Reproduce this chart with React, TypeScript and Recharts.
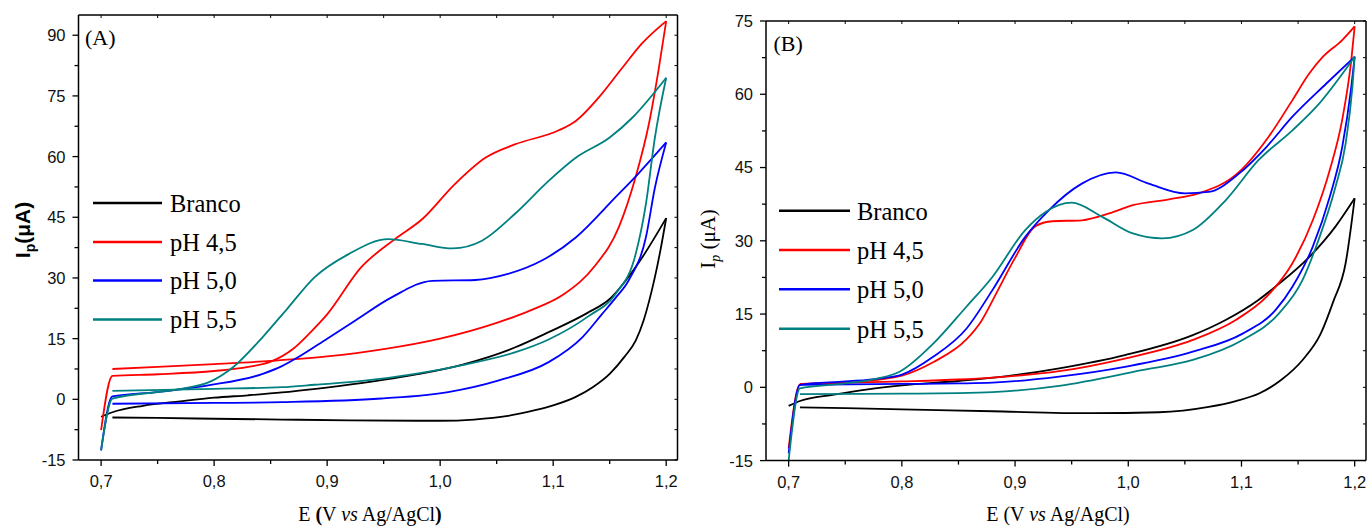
import React from 'react';
import { LineChart, Line, XAxis, YAxis } from 'recharts';

// ---------- Panel A data: [E (V), I (µA)] ----------
const A_BRANCO_UP = [[0.70,-4.3],[0.71,-3.2],[0.737,-1.6],[0.77,-0.5],[0.80,0.4],[0.83,1.0],[0.86,1.7],[0.89,2.6],[0.93,4.0],[0.98,6.2],[1.02,8.6],[1.066,12.8],[1.096,16.6],[1.13,21.3],[1.15,24.8],[1.175,33.5],[1.2,44.8]];
const A_BRANCO_DOWN = [[0.71,-4.5],[0.75,-4.6],[0.80,-4.8],[0.86,-5.0],[0.92,-5.2],[0.98,-5.3],[1.0,-5.3],[1.03,-5.0],[1.06,-4.1],[1.084,-2.7],[1.10,-1.5],[1.12,0.6],[1.135,3.0],[1.15,6.3],[1.163,10.5],[1.173,14.5],[1.18,19.5],[1.185,24.4],[1.19,30.2],[1.195,37.0],[1.2,44.8]];
const A_PH45_FWD = [[0.70,-7.6],[0.71,5.8],[0.75,6.2],[0.80,7.0],[0.83,8.0],[0.85,9.3],[0.87,12.5],[0.885,16.5],[0.90,21.0],[0.93,32.6],[0.96,39.6],[0.984,44.5],[1.013,53.2],[1.04,59.7],[1.066,63.0],[1.105,66.5],[1.12,68.8],[1.14,74.5],[1.161,81.9],[1.179,88.1],[1.2,93.5]];
const A_PH45_REV = [[0.71,7.5],[0.75,8.0],[0.80,8.7],[0.85,9.5],[0.90,10.6],[0.95,12.4],[1.0,15.0],[1.05,18.9],[1.08,22.0],[1.11,26.1],[1.137,33.0],[1.158,42.5],[1.173,55.0],[1.185,68.5],[1.193,81.0],[1.2,93.5]];
const A_PH50_FWD = [[0.70,-12.6],[0.71,0.7],[0.75,1.8],[0.796,3.5],[0.843,6.3],[0.86,8.2],[0.873,10.2],[0.90,15.0],[0.925,19.5],[0.957,25.2],[0.993,29.3],[1.031,29.5],[1.06,31.0],[1.09,34.3],[1.12,40.0],[1.155,49.9],[1.176,56.0],[1.2,63.5]];
const A_PH50_REV = [[0.71,-1.1],[0.80,-0.9],[0.86,-0.7],[0.948,0.2],[1.007,1.8],[1.052,4.7],[1.096,9.2],[1.126,15.4],[1.143,21.0],[1.155,25.0],[1.167,29.5],[1.182,40.0],[1.19,52.3],[1.2,63.5]];
const A_PH55_FWD = [[0.70,-12.6],[0.71,0.2],[0.766,2.4],[0.796,4.3],[0.817,8.0],[0.843,15.4],[0.865,22.5],[0.889,30.2],[0.919,35.9],[0.954,39.6],[0.984,38.4],[1.011,37.3],[1.037,39.2],[1.066,45.8],[1.096,54.0],[1.12,59.7],[1.15,64.7],[1.17,69.6],[1.2,79.5]];
const A_PH55_REV = [[0.71,2.1],[0.80,2.6],[0.86,3.0],[0.889,3.6],[0.933,4.6],[0.978,6.3],[1.022,8.6],[1.066,11.6],[1.096,14.8],[1.131,20.5],[1.155,26.0],[1.173,35.9],[1.182,48.2],[1.19,64.7],[1.2,79.5]];

// ---------- Panel B data ----------
const B_BRANCO_UP = [[0.70,-3.8],[0.71,-2.8],[0.74,-1.5],[0.77,-0.4],[0.80,0.4],[0.85,1.3],[0.893,2.3],[0.939,3.9],[0.997,6.6],[1.057,10.7],[1.086,13.8],[1.115,17.9],[1.13,20.6],[1.16,26.7],[1.183,32.9],[1.2,38.7]];
const B_BRANCO_DOWN = [[0.71,-4.1],[0.80,-4.5],[0.88,-4.9],[0.968,-5.3],[1.027,-5.1],[1.071,-4.0],[1.095,-2.8],[1.116,-1.2],[1.135,1.5],[1.154,5.6],[1.17,11.0],[1.181,17.5],[1.192,25.4],[1.2,38.7]];
const B_PH45_FWD = [[0.70,-12.5],[0.71,0.6],[0.75,1.0],[0.78,1.6],[0.80,2.4],[0.828,5.2],[0.857,9.8],[0.87,13.5],[0.884,19.5],[0.90,26.5],[0.918,33.0],[0.933,34.0],[0.959,34.2],[0.983,35.6],[1.004,37.3],[1.036,38.5],[1.062,39.7],[1.098,44.1],[1.124,51.3],[1.145,58.8],[1.16,64.3],[1.172,67.7],[1.189,71.1],[1.2,73.9]];
const B_PH45_REV = [[0.71,0.7],[0.80,1.2],[0.85,1.6],[0.88,2.0],[0.939,3.3],[0.997,5.9],[1.057,9.7],[1.095,13.8],[1.122,18.5],[1.145,25.4],[1.163,34.2],[1.178,44.5],[1.189,54.8],[1.197,67.0],[1.2,73.9]];
const B_PH50_FWD = [[0.70,-13.5],[0.71,0.5],[0.75,1.2],[0.78,1.8],[0.80,2.6],[0.828,6.3],[0.857,12.0],[0.88,19.9],[0.909,30.8],[0.93,36.3],[0.959,41.7],[0.989,44.0],[1.018,41.7],[1.05,39.7],[1.071,40.0],[1.098,43.8],[1.122,49.2],[1.145,55.4],[1.175,62.2],[1.2,67.7]];
const B_PH50_REV = [[0.71,0.5],[0.80,0.7],[0.85,0.8],[0.88,0.95],[0.939,2.2],[0.997,4.2],[1.057,7.3],[1.101,11.0],[1.13,15.8],[1.145,20.6],[1.163,28.8],[1.178,39.0],[1.189,49.2],[1.197,61.5],[1.2,67.7]];
const B_PH55_FWD = [[0.70,-15.0],[0.71,-0.2],[0.75,0.8],[0.778,1.8],[0.798,3.2],[0.828,9.0],[0.857,16.5],[0.88,22.6],[0.909,32.2],[0.927,35.9],[0.95,37.8],[0.977,34.9],[1.004,31.5],[1.03,30.5],[1.057,32.2],[1.086,38.3],[1.115,46.5],[1.145,52.6],[1.166,57.4],[1.2,67.7]];
const B_PH55_REV = [[0.71,-1.4],[0.80,-1.3],[0.85,-1.2],[0.88,-1.0],[0.939,0.3],[1.012,3.5],[1.057,5.6],[1.101,9.7],[1.133,15.1],[1.154,22.0],[1.167,29.5],[1.183,41.0],[1.192,49.9],[1.198,61.5],[1.2,67.7]];

const SERIES_NAMES = ['Branco', 'pH 4,5', 'pH 5,0', 'pH 5,5'];
const SERIES_COLORS = ['#000000', '#ff0000', '#0000ff', '#008080'];

const X_TICKS = [0.7, 0.75, 0.8, 0.85, 0.9, 0.95, 1.0, 1.05, 1.1, 1.15, 1.2];
const A_Y_TICKS = [-15, -7.5, 0, 7.5, 15, 22.5, 30, 37.5, 45, 52.5, 60, 67.5, 75, 82.5, 90];
const B_Y_TICKS = [-15, -7.5, 0, 7.5, 15, 22.5, 30, 37.5, 45, 52.5, 60, 67.5, 75];

const toPts = (arr: number[][]) => arr.map(([E, I]) => ({ E, I }));

const TICK_FONT = 'Liberation Sans, Arial, sans-serif';
const SERIF = 'Liberation Serif, Times New Roman, serif';

const XTick = (props: any) => {
  const { x, y, payload } = props;
  const v = payload.value as number;
  const major = Math.abs(v * 10 - Math.round(v * 10)) < 1e-6;
  return (
    <g>
      <line x1={x} y1={y} x2={x} y2={y + (major ? 6 : 4)} stroke="#000" strokeWidth={1.3} />
      {major && (
        <text x={x} y={y + 27} textAnchor="middle" fontFamily={TICK_FONT} fontSize={16.5} fill="#111">
          {v.toFixed(1).replace('.', ',')}
        </text>
      )}
    </g>
  );
};

const YTick = (props: any) => {
  const { x, y, payload } = props;
  const v = payload.value as number;
  const major = v % 15 === 0;
  return (
    <g>
      <line x1={x} y1={y} x2={x - (major ? 6 : 4)} y2={y} stroke="#000" strokeWidth={1.3} />
      {major && (
        <text x={x - 13} y={y} dy="0.36em" textAnchor="end" fontFamily={TICK_FONT} fontSize={16.5} fill="#111">
          {v}
        </text>
      )}
    </g>
  );
};

const TopTick = (props: any) => {
  const { x, y } = props;
  return <line x1={x} y1={y} x2={x} y2={y + 3} stroke="#000" strokeWidth={1} />;
};
const RightTick = (props: any) => {
  const { x, y } = props;
  return <line x1={x} y1={y} x2={x - 3} y2={y} stroke="#000" strokeWidth={1} />;
};

const AXIS_LINE = { stroke: '#000', strokeWidth: 1.5 };

function Panel({ width, margin, yMax, yTicks, series }: any) {
  return (
    <LineChart width={width} height={528} margin={margin}>
      <XAxis xAxisId="b" dataKey="E" type="number" domain={[0.68, 1.21]} allowDataOverflow ticks={X_TICKS}
        interval={0} tickSize={0} tickMargin={0} tickLine={false} height={1} axisLine={AXIS_LINE} tick={<XTick />} />
      <XAxis xAxisId="t" orientation="top" dataKey="E" type="number" domain={[0.68, 1.21]} allowDataOverflow ticks={X_TICKS}
        interval={0} tickSize={0} tickMargin={0} tickLine={false} height={1} axisLine={AXIS_LINE} tick={<TopTick />} />
      <YAxis yAxisId="l" type="number" domain={[-15, yMax]} allowDataOverflow ticks={yTicks} interval={0}
        tickSize={0} tickMargin={0} tickLine={false} width={1} axisLine={AXIS_LINE} tick={<YTick />} />
      <YAxis yAxisId="r" orientation="right" type="number" domain={[-15, yMax]} allowDataOverflow ticks={yTicks} interval={0}
        tickSize={0} tickMargin={0} tickLine={false} width={1} axisLine={AXIS_LINE} tick={<RightTick />} />
      {series.map((s: any, i: number) => (
        <Line key={i} xAxisId="b" yAxisId="l" data={toPts(s.data)} dataKey="I" type="monotone" stroke={s.color}
          strokeWidth={1.8} dot={false} isAnimationActive={false} />
      ))}
    </LineChart>
  );
}

const mk = (arrs: number[][][]) =>
  arrs.map((d, i) => ({ data: d, color: SERIES_COLORS[Math.floor(i / 2)] }));

export default function App() {
  const seriesA = mk([A_BRANCO_UP, A_BRANCO_DOWN, A_PH45_FWD, A_PH45_REV, A_PH50_FWD, A_PH50_REV, A_PH55_FWD, A_PH55_REV]);
  const seriesB = mk([B_BRANCO_UP, B_BRANCO_DOWN, B_PH45_FWD, B_PH45_REV, B_PH50_FWD, B_PH50_REV, B_PH55_FWD, B_PH55_REV]);
  const legendA = { x1: 93, x2: 162, tx: 170, rows: [203, 242, 280.5, 319.5] };
  const legendB = { x1: 779, x2: 850, tx: 857, rows: [210.7, 250, 289.3, 328.7] };
  const legend = (L: any) =>
    SERIES_NAMES.map((n, i) => (
      <g key={n}>
        <line x1={L.x1} x2={L.x2} y1={L.rows[i]} y2={L.rows[i]} stroke={SERIES_COLORS[i]} strokeWidth={2.6} />
        <text x={L.tx} y={L.rows[i]} dy="0.36em" fontFamily={SERIF} fontSize={24.5} fill="#000">{n}</text>
      </g>
    ));
  return (
    <div style={{ position: 'absolute', left: 0, top: 0, width: 1367, height: 528, background: '#fff', overflow: 'hidden' }}>
      <div style={{ position: 'absolute', left: 0, top: 0 }}>
        <Panel width={690} margin={{ top: 14, right: 11.5, bottom: 67, left: 77.5 }} yMax={95} yTicks={A_Y_TICKS} series={seriesA} />
      </div>
      <div style={{ position: 'absolute', left: 690, top: 0 }}>
        <Panel width={677} margin={{ top: 20, right: 0, bottom: 66.4, left: 75 }} yMax={75} yTicks={B_Y_TICKS} series={seriesB} />
      </div>
      <svg width={1367} height={528} style={{ position: 'absolute', left: 0, top: 0, pointerEvents: 'none' }}>
        {legend(legendA)}
        {legend(legendB)}
        <text x={85} y={45} fontFamily={SERIF} fontSize={22}>(A)</text>
        <text x={773.5} y={51} fontFamily={SERIF} fontSize={22}>(B)</text>
        <text x={370} y={521} textAnchor="middle" fontFamily={SERIF} fontSize={20}>
          E <tspan fontWeight="bold">(</tspan>V <tspan fontStyle="italic">vs</tspan> Ag/AgCl<tspan fontWeight="bold">)</tspan>
        </text>
        <text x={1058} y={521} textAnchor="middle" fontFamily={SERIF} fontSize={20}>
          E (V <tspan fontStyle="italic">vs</tspan> Ag/AgCl)
        </text>
        <text x={30} y={230} transform="rotate(-90 30 230)" textAnchor="middle" fontFamily={TICK_FONT} fontWeight="bold" fontSize={21}>
          I<tspan dy={5} fontSize={14}>p</tspan><tspan dy={-5}>(μA)</tspan>
        </text>
        <text x={715} y={239} transform="rotate(-90 715 239)" textAnchor="middle" fontFamily={SERIF} fontSize={21}>
          I<tspan dy={5} fontSize={14} fontStyle="italic">p</tspan><tspan dy={-5}> (μA)</tspan>
        </text>
      </svg>
    </div>
  );
}
